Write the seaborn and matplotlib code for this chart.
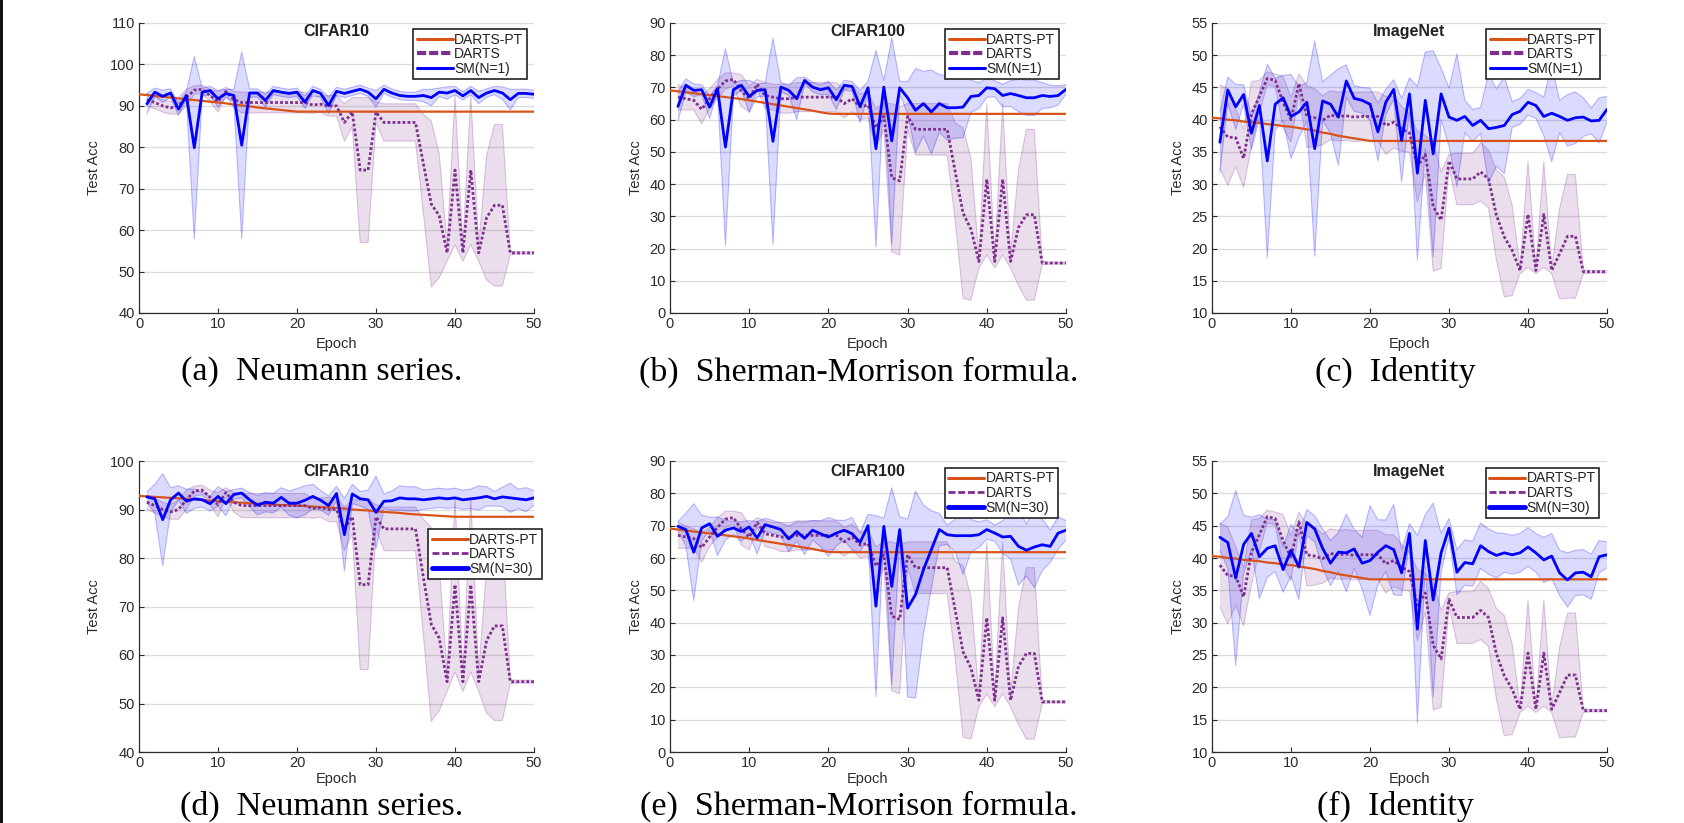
import matplotlib
matplotlib.use("Agg")
import matplotlib.pyplot as plt
import numpy as np
import seaborn as sns
from matplotlib.lines import Line2D
from matplotlib.patches import Rectangle

sns.set_theme(style="white")
plt.rcParams["font.family"] = ["Liberation Sans", "DejaVu Sans"]
plt.rcParams["axes.unicode_minus"] = False

ORANGE = "#D95319"
PURPLE = "#7E2F8E"
BLUE = "#0000FF"

EPOCHS = np.arange(1, 51)
PT_EPOCHS = np.arange(0, 51)

# ---- DARTS-PT (epoch 0..50) ----
PT_CIFAR10_TOP = [92.8, 92.6, 92.4, 92.2, 92.0, 91.8, 91.6, 91.4, 91.2, 91.0,
                  90.8, 90.6, 90.3, 90.1, 89.9, 89.6, 89.4, 89.2, 89.0, 88.8,
                  88.6, 88.6, 88.6, 88.6, 88.6, 88.6, 88.6, 88.6, 88.6, 88.6,
                  88.6, 88.6, 88.6, 88.6, 88.6, 88.6, 88.6, 88.6, 88.6, 88.6,
                  88.6, 88.6, 88.6, 88.6, 88.6, 88.6, 88.6, 88.6, 88.6, 88.6, 88.6]
PT_CIFAR10_BOT = [92.8, 92.7, 92.6, 92.5, 92.4, 92.3, 92.2, 92.1, 92.0, 91.8,
                  91.7, 91.6, 91.5, 91.4, 91.3, 91.2, 91.1, 91.0, 90.9, 90.9,
                  90.8, 90.7, 90.6, 90.5, 90.4, 90.3, 90.2, 90.0, 89.9, 89.8,
                  89.6, 89.5, 89.4, 89.3, 89.1, 89.0, 88.9, 88.8, 88.7, 88.6,
                  88.5, 88.5, 88.5, 88.5, 88.5, 88.5, 88.5, 88.5, 88.5, 88.5, 88.5]
PT_CIFAR100 = [69.1, 68.8, 68.5, 68.2, 67.9, 67.6, 67.3, 67.0, 66.7, 66.4,
               66.0, 65.6, 65.2, 64.8, 64.4, 64.0, 63.6, 63.2, 62.8, 62.3,
               61.9, 61.8, 61.8, 61.8, 61.8, 61.8, 61.8, 61.8, 61.8, 61.8,
               61.8, 61.8, 61.8, 61.8, 61.8, 61.8, 61.8, 61.8, 61.8, 61.8,
               61.8, 61.8, 61.8, 61.8, 61.8, 61.8, 61.8, 61.8, 61.8, 61.8, 61.8]
PT_IMAGENET = [40.3, 40.2, 40.0, 39.9, 39.7, 39.6, 39.5, 39.3, 39.2, 39.0,
               38.9, 38.7, 38.5, 38.3, 38.0, 37.8, 37.5, 37.3, 37.1, 36.9,
               36.7, 36.7, 36.7, 36.7, 36.7, 36.7, 36.7, 36.7, 36.7, 36.7,
               36.7, 36.7, 36.7, 36.7, 36.7, 36.7, 36.7, 36.7, 36.7, 36.7,
               36.7, 36.7, 36.7, 36.7, 36.7, 36.7, 36.7, 36.7, 36.7, 36.7, 36.7]

# ---- DARTS (epoch 1..50), mean and std ----
DARTS_CIFAR10 = [91.5, 90.8, 90.0, 89.5, 90.0, 92.0, 93.8, 94.0, 92.5, 91.0,
                 93.5, 91.5, 90.8, 90.8, 90.8, 90.8, 90.8, 90.8, 90.8, 90.8,
                 90.8, 90.2, 90.4, 90.0, 90.0, 86.0, 88.5, 74.5, 74.5, 88.5,
                 86.0, 86.0, 86.0, 86.0, 86.0, 76.0, 66.3, 63.5, 54.5, 74.5,
                 54.5, 74.5, 54.5, 63.0, 66.0, 66.0, 54.5, 54.5, 54.5, 54.5]
DARTS_CIFAR10_STD = [1.5, 1.5, 1.5, 1.5, 2.0, 2.0, 1.0, 1.0, 1.5, 2.5,
                     1.0, 2.0, 2.5, 2.5, 2.5, 2.5, 2.5, 2.5, 2.5, 2.5,
                     2.5, 2.0, 2.0, 2.5, 2.5, 4.5, 3.5, 17.5, 17.5, 2.5,
                     4.5, 4.5, 4.5, 4.5, 4.5, 12.0, 20.0, 15.0, 2.0, 18.0,
                     2.0, 18.0, 2.0, 15.0, 19.5, 19.5, 0.4, 0.3, 0.3, 0.3]
DARTS_CIFAR100 = [67.0, 66.5, 66.0, 63.2, 66.5, 69.5, 72.0, 72.5, 69.0, 66.5,
                  71.0, 67.5, 67.0, 66.5, 66.5, 67.0, 67.0, 67.0, 67.0, 67.0,
                  67.0, 65.0, 66.5, 64.0, 64.5, 57.5, 61.0, 42.0, 41.0, 61.0,
                  57.0, 57.0, 57.0, 57.0, 57.0, 44.0, 31.0, 26.0, 16.0, 41.5,
                  16.0, 41.5, 16.0, 26.5, 30.5, 30.5, 15.5, 15.5, 15.5, 15.5]
DARTS_CIFAR100_STD = [4.0, 3.5, 3.0, 4.5, 3.0, 3.0, 2.5, 2.0, 5.0, 4.0,
                      1.5, 4.0, 4.0, 4.5, 4.5, 4.5, 4.5, 4.5, 4.5, 4.5,
                      4.5, 4.5, 4.0, 4.0, 4.0, 6.0, 4.0, 23.0, 23.0, 4.0,
                      8.0, 8.0, 8.0, 8.0, 8.0, 15.0, 26.5, 22.0, 2.0, 23.5,
                      2.0, 23.5, 2.0, 18.0, 26.5, 26.5, 0.5, 0.3, 0.3, 0.3]
DARTS_IMAGENET = [38.9, 37.3, 37.2, 34.0, 40.9, 43.6, 46.4, 46.1, 42.7, 40.0,
                  45.6, 40.5, 40.3, 39.9, 40.7, 40.5, 40.6, 40.4, 40.5, 40.5,
                  40.5, 39.1, 39.6, 38.6, 37.9, 32.7, 34.6, 26.5, 24.4, 33.6,
                  30.8, 30.8, 30.8, 31.9, 30.8, 25.2, 21.8, 19.7, 16.6, 25.3,
                  16.6, 25.3, 16.6, 19.2, 21.9, 21.9, 16.4, 16.4, 16.4, 16.4]
DARTS_IMAGENET_STD = [6.5, 7.5, 4.5, 4.5, 5.0, 2.5, 1.0, 1.0, 4.0, 3.5,
                      1.5, 4.8, 4.5, 3.8, 3.8, 3.8, 3.8, 3.8, 3.8, 3.8,
                      3.8, 4.5, 4.0, 3.5, 3.0, 5.5, 3.0, 10.0, 7.5, 1.0,
                      4.0, 4.0, 4.0, 4.5, 4.5, 7.0, 9.3, 7.0, 0.5, 8.2,
                      0.5, 8.2, 0.5, 7.0, 9.6, 9.6, 0.3, 0.2, 0.2, 0.2]

# ---- SM(N=1) ----
SM1_CIFAR10 = [90.5, 93.3, 92.3, 93.1, 89.2, 92.5, 79.9, 93.3, 93.7, 91.7,
               93.0, 92.5, 80.5, 93.1, 93.1, 91.3, 93.7, 93.3, 93.0, 93.3,
               90.9, 93.7, 93.0, 90.1, 93.5, 93.0, 93.5, 94.0, 93.3, 91.7,
               94.0, 93.1, 92.5, 92.3, 92.3, 92.5, 92.0, 93.3, 93.1, 93.7,
               92.4, 93.7, 92.0, 93.1, 93.7, 93.1, 91.5, 93.0, 93.0, 92.8]
SM1_CIFAR10_STD = [2.5, 1.0, 1.5, 1.0, 1.5, 1.0, 22.0, 1.0, 1.0, 2.0,
                   1.0, 1.5, 22.5, 1.0, 1.0, 1.5, 1.0, 1.0, 1.0, 1.0,
                   1.5, 1.0, 1.0, 2.0, 1.0, 1.0, 1.0, 1.0, 1.0, 2.0,
                   1.0, 1.0, 1.0, 1.0, 1.0, 1.5, 2.0, 1.0, 1.5, 1.0,
                   1.0, 1.0, 1.5, 1.0, 1.0, 1.5, 2.5, 1.0, 1.0, 1.0]
SM1_CIFAR100 = [64.1, 70.7, 69.1, 69.3, 63.9, 69.6, 51.5, 69.3, 70.7, 67.2,
                69.1, 69.3, 53.3, 70.1, 69.1, 66.5, 72.2, 70.1, 69.3, 69.9,
                66.2, 70.7, 70.3, 64.1, 69.9, 51.0, 70.1, 53.4, 69.9, 66.8,
                62.9, 65.0, 62.4, 65.0, 63.7, 63.7, 63.9, 67.2, 67.5, 69.9,
                69.6, 67.5, 68.1, 67.5, 66.8, 66.8, 67.5, 67.2, 67.5, 69.4]
SM1_CIFAR100_STD = [4.5, 2.0, 2.0, 1.5, 3.5, 1.0, 30.5, 2.0, 1.5, 5.0,
                    2.0, 2.0, 32.0, 1.5, 1.5, 6.5, 1.0, 1.5, 1.5, 2.0,
                    3.0, 1.5, 1.5, 5.0, 2.0, 30.5, 2.0, 32.0, 2.0, 5.0,
                    13.0, 10.0, 13.0, 9.0, 10.0, 9.5, 9.5, 5.0, 4.0, 3.0,
                    2.5, 3.5, 4.0, 5.0, 5.5, 5.5, 4.0, 3.5, 3.0, 1.5]
SM1_IMAGENET = [36.5, 44.6, 42.0, 43.9, 37.9, 42.2, 33.6, 42.4, 43.4, 40.5,
                41.2, 42.7, 35.5, 42.9, 42.4, 40.4, 46.0, 43.3, 43.0, 42.4,
                38.1, 42.7, 44.7, 36.8, 44.0, 31.7, 43.0, 34.7, 44.0, 40.4,
                39.9, 40.5, 39.1, 39.9, 38.6, 38.8, 39.1, 40.8, 41.3, 42.7,
                42.2, 40.5, 41.0, 40.5, 39.9, 40.3, 40.4, 39.8, 39.9, 41.6]
SM1_IMAGENET_STD = [4.7, 2.0, 3.5, 1.5, 2.5, 2.0, 15.0, 4.0, 3.5, 6.5,
                    4.0, 3.0, 16.7, 3.0, 4.5, 7.5, 2.5, 2.0, 2.0, 2.5,
                    4.5, 2.0, 1.5, 6.5, 2.5, 13.5, 7.5, 16.0, 4.0, 4.5,
                    10.3, 2.5, 2.5, 2.0, 8.5, 6.0, 7.5, 2.0, 2.0, 2.0,
                    2.0, 3.0, 7.5, 2.5, 4.0, 4.0, 3.0, 2.0, 3.5, 2.0]

# ---- SM(N=30) ----
SM30_CIFAR10 = [92.6, 92.2, 87.9, 92.0, 93.4, 91.7, 92.2, 92.0, 91.2, 92.7,
                91.2, 93.1, 93.4, 92.0, 90.9, 91.5, 91.3, 92.5, 91.3, 91.3,
                91.9, 92.7, 91.9, 90.8, 93.3, 84.8, 93.2, 92.2, 92.0, 89.4,
                91.7, 91.8, 92.4, 92.2, 92.2, 92.0, 92.2, 92.4, 92.2, 92.4,
                92.0, 92.2, 92.4, 92.7, 92.2, 92.6, 92.4, 92.2, 92.0, 92.4]
SM30_CIFAR10_STD = [1.0, 3.0, 9.5, 2.5, 1.5, 2.5, 2.0, 1.5, 1.5, 2.0,
                    2.5, 1.0, 1.0, 1.5, 2.0, 2.0, 2.0, 2.0, 2.5, 3.0,
                    3.0, 2.5, 2.0, 2.0, 1.5, 7.5, 2.0, 1.5, 2.0, 7.5,
                    1.5, 2.0, 2.5, 2.5, 2.5, 2.0, 2.0, 2.0, 2.0, 2.0,
                    2.0, 2.0, 2.5, 2.0, 1.5, 2.0, 3.0, 2.0, 2.5, 1.5]
SM30_CIFAR100 = [69.8, 68.8, 61.8, 69.3, 70.6, 66.7, 68.6, 69.3, 68.2, 69.6,
                 66.2, 70.3, 69.6, 68.8, 65.9, 68.2, 66.1, 68.6, 67.5, 66.5,
                 67.7, 68.6, 67.5, 64.8, 70.0, 45.1, 69.8, 51.2, 68.8, 44.5,
                 48.7, 56.4, 62.6, 68.8, 67.2, 66.9, 66.9, 66.9, 67.2, 68.8,
                 67.7, 66.5, 66.7, 63.6, 62.4, 63.4, 64.1, 63.6, 67.7, 68.6]
SM30_CIFAR100_STD = [1.5, 5.0, 15.0, 4.0, 2.0, 6.0, 3.0, 2.0, 3.0, 2.0,
                     5.0, 2.0, 2.0, 2.0, 4.0, 3.0, 5.0, 3.0, 4.0, 6.0,
                     4.0, 3.0, 5.0, 3.0, 3.5, 28.0, 2.5, 30.5, 4.0, 27.5,
                     32.0, 20.0, 12.0, 5.0, 3.0, 5.0, 12.0, 5.0, 4.0, 3.0,
                     2.5, 5.0, 7.0, 12.0, 8.0, 12.5, 8.0, 5.0, 5.0, 3.0]
SM30_IMAGENET = [43.2, 42.4, 36.9, 42.1, 43.8, 40.2, 41.5, 41.9, 38.2, 41.2,
                 38.6, 45.5, 44.5, 41.5, 39.2, 40.9, 40.8, 41.4, 39.2, 39.6,
                 40.9, 41.9, 41.3, 37.7, 43.8, 29.0, 42.7, 33.5, 40.8, 44.6,
                 37.8, 39.3, 39.1, 41.9, 41.0, 40.4, 40.8, 40.5, 40.8, 41.7,
                 40.8, 39.7, 40.3, 37.7, 36.6, 37.7, 37.8, 37.1, 40.2, 40.5]
SM30_IMAGENET_STD = [2.0, 4.0, 13.5, 4.5, 2.5, 6.5, 4.5, 4.0, 3.5, 4.0,
                     5.0, 2.0, 2.0, 3.0, 3.5, 3.0, 6.0, 3.0, 4.0, 8.5,
                     5.0, 4.0, 7.0, 3.5, 1.5, 14.5, 4.0, 15.0, 3.0, 1.5,
                     3.5, 3.5, 3.5, 3.5, 3.5, 3.5, 3.0, 3.0, 3.0, 3.0,
                     3.0, 3.5, 3.5, 3.5, 4.2, 3.5, 3.5, 3.5, 2.5, 2.0]

CAPTIONS = ["(a)  Neumann series.", "(b)  Sherman-Morrison formula.", "(c)  Identity",
            "(d)  Neumann series.", "(e)  Sherman-Morrison formula.", "(f)  Identity"]

FIG_W, FIG_H = 1684, 823
COL_X = [(139, 534), (670, 1066), (1212, 1607)]
ROW_Y = [(23, 313), (461, 752)]
CAPTION_X = [322, 859, 1395]
CAPTION_Y = [372, 806]
XLABEL_Y = [-0.082, -0.070]


def add_band(ax, mean, std, color, alpha):
    mean = np.asarray(mean)
    std = np.asarray(std)
    lo, hi = mean - std, mean + std
    ax.fill_between(EPOCHS, lo, hi, facecolor=color, alpha=alpha, edgecolor="none", zorder=1)
    ax.plot(EPOCHS, lo, color=color, alpha=0.25, lw=0.8, zorder=1)
    ax.plot(EPOCHS, hi, color=color, alpha=0.25, lw=0.8, zorder=1)


def draw_panel(ax, title, ylim, ystep, pt_acc, darts_acc, darts_std, sm_acc, sm_std,
               sm_label, legend_anchor, row, ylabel_x):
    add_band(ax, darts_acc, darts_std, PURPLE, 0.16)
    add_band(ax, sm_acc, sm_std, BLUE, 0.14)
    sns.lineplot(x=PT_EPOCHS, y=pt_acc, ax=ax, color=ORANGE, linewidth=1.6, errorbar=None, zorder=3)
    sns.lineplot(x=EPOCHS, y=darts_acc, ax=ax, color=PURPLE, linewidth=2.0,
                 linestyle=(0, (1, 0.8)), errorbar=None, zorder=4)
    sns.lineplot(x=EPOCHS, y=sm_acc, ax=ax, color=BLUE, linewidth=2.0, errorbar=None, zorder=5)

    ax.set_xlim(0, 50)
    ax.set_ylim(*ylim)
    ax.set_xticks(np.arange(0, 51, 10))
    ax.set_yticks(np.arange(ylim[0], ylim[1] + 0.1, ystep))
    ax.yaxis.grid(True, color="#dcdcdc", lw=1.0)
    ax.xaxis.grid(False)
    ax.set_axisbelow(True)
    for side in ["top", "right"]:
        ax.spines[side].set_visible(False)
    for side in ["left", "bottom"]:
        ax.spines[side].set_color("#2b2b2b")
        ax.spines[side].set_linewidth(0.9)
    ax.tick_params(direction="in", length=3.5, width=0.8, colors="#2b2b2b",
                   labelsize=10.5, left=True, bottom=True, pad=3)
    ax.set_xlabel("Epoch", fontsize=10.5, color="#2b2b2b")
    ax.set_ylabel("Test Acc", fontsize=10.5, color="#2b2b2b")
    ax.xaxis.set_label_coords(0.5, XLABEL_Y[row])
    ax.yaxis.set_label_coords(ylabel_x, 0.5)
    ax.text(0.5, 0.995 if row == 0 else 0.99, title, transform=ax.transAxes,
            ha="center", va="top", fontsize=11.5, fontweight="bold", color="#222222")

    if row == 0:
        darts_handle = Line2D([], [], color=PURPLE, lw=3.0, ls=(0, (2.2, 0.7)))
        sm_handle = Line2D([], [], color=BLUE, lw=2.2)
    else:
        darts_handle = Line2D([], [], color=PURPLE, lw=2.0, ls=(0, (2.5, 1.0)))
        sm_handle = Line2D([], [], color=BLUE, lw=3.5)
    handles = [Line2D([], [], color=ORANGE, lw=2.2), darts_handle, sm_handle]
    leg = ax.legend(handles, ["DARTS-PT", "DARTS", sm_label], loc="upper right",
                    bbox_to_anchor=legend_anchor, frameon=True, fancybox=False,
                    framealpha=1, fontsize=10, handlelength=2.6, handletextpad=0.1,
                    labelspacing=0.05, borderpad=0.25, borderaxespad=0)
    leg.get_frame().set_edgecolor("#222222")
    leg.get_frame().set_linewidth(1.2)
    for txt in leg.get_texts():
        txt.set_color("#222222")


def axes_rect(col, row):
    x0, x1 = COL_X[col]
    y0, y1 = ROW_Y[row]
    return [x0 / FIG_W, 1 - y1 / FIG_H, (x1 - x0) / FIG_W, (y1 - y0) / FIG_H]


def main() -> None:
    fig = plt.figure(figsize=(FIG_W / 100, FIG_H / 100), dpi=100)
    fig.patch.set_facecolor("white")

    panels = [
        ("CIFAR10", (40, 110), 10, PT_CIFAR10_TOP, DARTS_CIFAR10, DARTS_CIFAR10_STD,
         SM1_CIFAR10, SM1_CIFAR10_STD, "SM(N=1)", (0.982, 0.979), -0.096),
        ("CIFAR100", (0, 90), 10, PT_CIFAR100, DARTS_CIFAR100, DARTS_CIFAR100_STD,
         SM1_CIFAR100, SM1_CIFAR100_STD, "SM(N=1)", (0.982, 0.979), -0.068),
        ("ImageNet", (10, 55), 5, PT_IMAGENET, DARTS_IMAGENET, DARTS_IMAGENET_STD,
         SM1_IMAGENET, SM1_IMAGENET_STD, "SM(N=1)", (0.982, 0.979), -0.068),
        ("CIFAR10", (40, 100), 10, PT_CIFAR10_BOT, DARTS_CIFAR10, DARTS_CIFAR10_STD,
         SM30_CIFAR10, SM30_CIFAR10_STD, "SM(N=30)", (1.02, 0.766), -0.096),
        ("CIFAR100", (0, 90), 10, PT_CIFAR100, DARTS_CIFAR100, DARTS_CIFAR100_STD,
         SM30_CIFAR100, SM30_CIFAR100_STD, "SM(N=30)", (0.98, 0.976), -0.068),
        ("ImageNet", (10, 55), 5, PT_IMAGENET, DARTS_IMAGENET, DARTS_IMAGENET_STD,
         SM30_IMAGENET, SM30_IMAGENET_STD, "SM(N=30)", (0.98, 0.976), -0.068),
    ]

    for idx, spec in enumerate(panels):
        row, col = divmod(idx, 3)
        ax = fig.add_axes(axes_rect(col, row))
        ax.set_facecolor("white")
        draw_panel(ax, *spec[:9], legend_anchor=spec[9], row=row, ylabel_x=spec[10])
        fig.text(CAPTION_X[col] / FIG_W, 1 - CAPTION_Y[row] / FIG_H, CAPTIONS[idx],
                 ha="center", va="center", fontsize=24.5,
                 family=["Liberation Serif", "DejaVu Serif"], color="black")

    # dark scan edge on the left border
    fig.patches.append(Rectangle((0, 0), 3 / FIG_W, 1, transform=fig.transFigure,
                                 facecolor="#111111", edgecolor="none"))

    fig.savefig("out.png", dpi=100, facecolor="white")
    plt.close(fig)


if __name__ == "__main__":
    main()
